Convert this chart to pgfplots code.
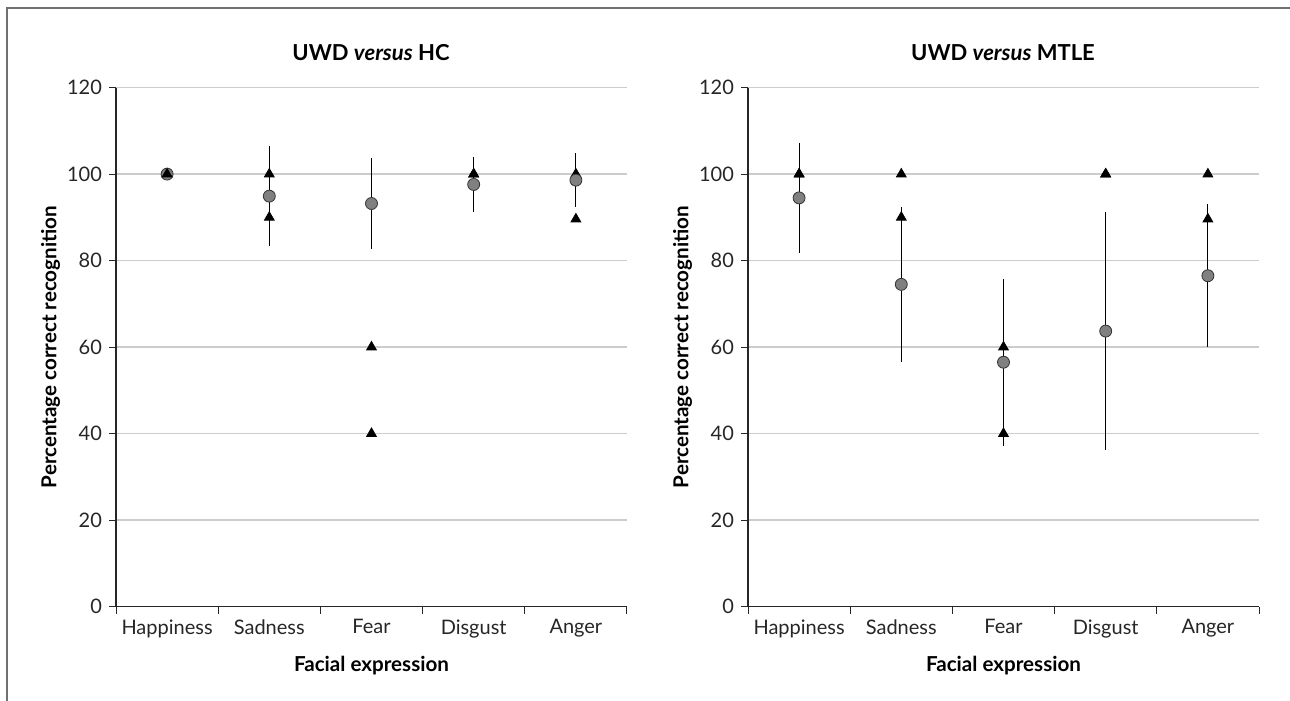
\documentclass[border=0pt]{standalone}
\usepackage{pgfplots}
\usepackage{pgfplotstable}
\usepackage{fontspec}
\pgfplotsset{compat=1.18}
\setmainfont{Lato}

\definecolor{gridgray}{HTML}{CCCCCC}
\definecolor{dotgray}{HTML}{808080}
\definecolor{framegray}{HTML}{707070}

% x, patient 1, patient 2, group mean, group SD
\pgfplotstableread{
x p1 p2 m sd
1 100 100 100 0
2 100 90 94.9 11.5
3 60 40 93.2 10.6
4 100 100 97.6 6.3
5 100 89.6 98.6 6.3
}\hcdata
\pgfplotstableread{
x p1 p2 m sd
1 100 100 94.5 12.7
2 100 90 74.5 18
3 60 40 56.5 19.3
4 100 100 63.7 27.5
5 100 89.6 76.5 16.5
}\mtledata

\pgfplotsset{
  panel/.style={
    scale only axis, width=255.5pt, height=259.5pt,
    anchor=south west,
    xmin=0.5, xmax=5.5, ymin=0, ymax=120,
    ytick={0,20,...,120},
    xtick={0.5,1.5,...,5.5}, xticklabels={},
    extra x ticks={1,2,3,4,5},
    extra x tick labels={Happiness,Sadness,Fear,Disgust,Anger},
    extra x tick style={major tick length=0pt},
    xticklabel style={yshift=-3pt},
    axis x line*=bottom, axis y line*=left,
    axis line style={black!85, line width=0.6pt},
    tick align=outside, major tick length=3.5pt,
    tick style={black!85, line width=0.5pt},
    ymajorgrids, grid style={gridgray, line width=0.7pt},
    tick label style={font=\fontsize{10}{12}\selectfont, text=black!85},
    /pgf/number format/assume math mode=true,
    xlabel={\textbf{Facial expression}},
    ylabel={\textbf{Percentage correct recognition}},
    label style={font=\fontsize{10.3}{12}\selectfont},
    xlabel style={at={(axis description cs:0.5,-0.113)}, anchor=center},
    ylabel style={at={(axis description cs:-0.128,0.5)}, anchor=center},
    clip=false,
  },
  tri/.style={only marks, mark=triangle*, mark size=2.8pt, black},
  grp/.style={only marks, mark=*, mark size=3pt,
    mark options={fill=dotgray, draw=black!80, line width=0.4pt}},
  bars/.style={no marks, draw=none, forget plot,
    error bars/.cd, y dir=both, y explicit,
    error mark=none, error bar style={black, line width=0.55pt}},
}

\begin{document}
\begin{tikzpicture}
\useasboundingbox (0,0) rectangle (645pt,350.5pt);
\draw[framegray, line width=1pt] (3.5pt,0) -- (3.5pt,346.5pt) -- (645pt,346.5pt);

\begin{axis}[panel, at={(58pt,47.2pt)}]
\addplot[bars] table[x=x, y=m, y error=sd] {\hcdata};
\addplot[tri] table[x=x, y=p1] {\hcdata};
\addplot[grp] table[x=x, y=m] {\hcdata};
\addplot[tri] table[x=x, y=p2] {\hcdata};
\end{axis}

\begin{axis}[panel, at={(374pt,47.2pt)}]
\addplot[bars] table[x=x, y=m, y error=sd] {\mtledata};
\addplot[tri] table[x=x, y=p1] {\mtledata};
\addplot[grp] table[x=x, y=m] {\mtledata};
\addplot[tri] table[x=x, y=p2] {\mtledata};
\end{axis}

\node[font=\bfseries\fontsize{11}{13}\selectfont] at (185.5pt,324pt) {UWD \textit{versus} HC};
\node[font=\bfseries\fontsize{11}{13}\selectfont] at (501.5pt,324pt) {UWD \textit{versus} MTLE};
\end{tikzpicture}
\end{document}
